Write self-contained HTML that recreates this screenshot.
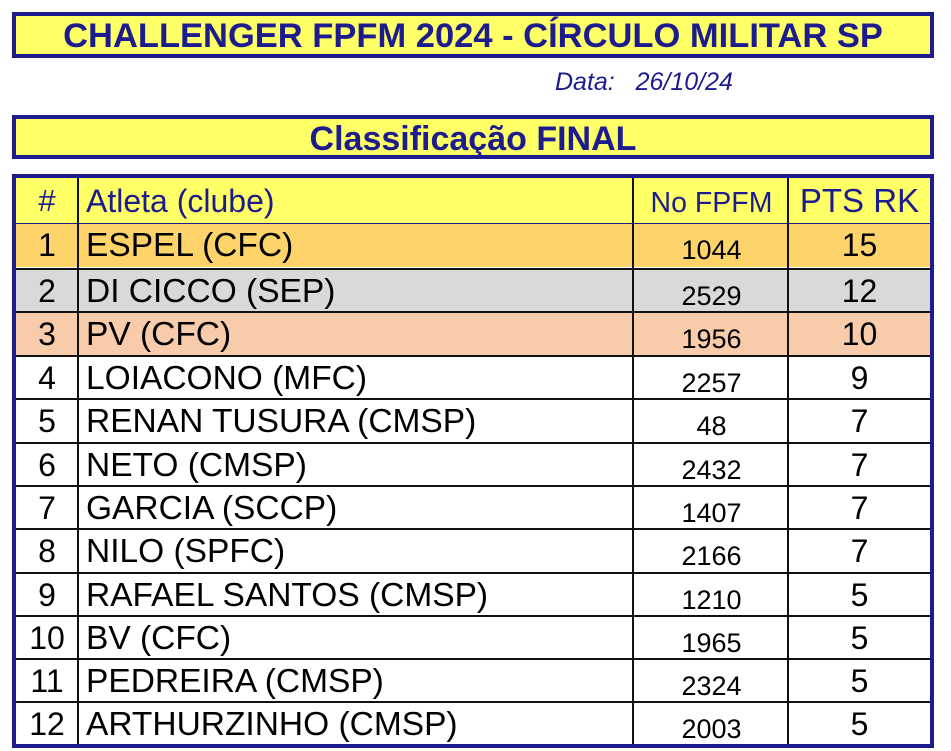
<!DOCTYPE html>
<html><head><meta charset="utf-8"><style>
body{margin:0;width:951px;height:750px;background:#fff;position:relative;overflow:hidden;font-family:"Liberation Sans",Arial,sans-serif}
.box{position:absolute;left:12px;width:914px;background:#ffff66;border:4px solid #1c1c8e;color:#1c1c8e;font-weight:bold;text-align:center}
.t{position:absolute;left:12px;width:914px;border:4px solid #1c1c8e;top:174px;height:566px}
.r{position:absolute;left:0;width:914px;height:43px;border-top:2px solid #111;color:#000}
.r div{position:absolute;top:0;height:43px;line-height:43px}
.c1{left:0;width:62px;text-align:center;font-size:32px}
.c2{left:70px;font-size:33.5px;white-space:nowrap}
.c3{left:618px;width:155px;text-align:center;font-size:27px;padding-top:5px}
.c4{left:773px;width:141px;text-align:center;font-size:32px}
.v{position:absolute;top:0;bottom:0;width:2px;background:#111}
</style></head><body>
<div class="box" style="top:12px;height:38px;line-height:40px;font-size:34.5px">CHALLENGER FPFM 2024 - CÍRCULO MILITAR SP</div>
<div style="position:absolute;left:555px;top:68px;font-size:25px;font-style:italic;color:#1c1c8e;white-space:pre">Data:   26/10/24</div>
<div class="box" style="top:115px;height:36px;line-height:40px;font-size:34px">Classificação FINAL</div>
<div class="t">
<div class="r" style="top:0;height:45px;border-top:none;background:#ffff66;color:#1c1c8e;border-bottom:3px solid #1c1c8e">
<div class="c1" style="font-size:31px;line-height:46px">#</div><div class="c2" style="font-size:32px;line-height:46px">Atleta (clube)</div><div class="c3" style="font-size:28.5px;line-height:46px;padding-top:2px">No FPFM</div><div class="c4" style="font-size:33px;line-height:46px">PTS RK</div></div>
<div class="r" style="top:46px;background:#fdd36a;border-top:none"><div class="c1">1</div><div class="c2">ESPEL (CFC)</div><div class="c3">1044</div><div class="c4">15</div></div>
<div class="r" style="top:90px;background:#d9d9d9"><div class="c1">2</div><div class="c2">DI CICCO (SEP)</div><div class="c3">2529</div><div class="c4">12</div></div>
<div class="r" style="top:133px;background:#f8cbab"><div class="c1">3</div><div class="c2">PV (CFC)</div><div class="c3">1956</div><div class="c4">10</div></div>
<div class="r" style="top:177px"><div class="c1">4</div><div class="c2">LOIACONO (MFC)</div><div class="c3">2257</div><div class="c4">9</div></div>
<div class="r" style="top:220px"><div class="c1">5</div><div class="c2">RENAN TUSURA (CMSP)</div><div class="c3">48</div><div class="c4">7</div></div>
<div class="r" style="top:264px"><div class="c1">6</div><div class="c2">NETO (CMSP)</div><div class="c3">2432</div><div class="c4">7</div></div>
<div class="r" style="top:307px"><div class="c1">7</div><div class="c2">GARCIA (SCCP)</div><div class="c3">1407</div><div class="c4">7</div></div>
<div class="r" style="top:350px"><div class="c1">8</div><div class="c2">NILO (SPFC)</div><div class="c3">2166</div><div class="c4">7</div></div>
<div class="r" style="top:394px"><div class="c1">9</div><div class="c2">RAFAEL SANTOS (CMSP)</div><div class="c3">1210</div><div class="c4">5</div></div>
<div class="r" style="top:437px"><div class="c1">10</div><div class="c2">BV (CFC)</div><div class="c3">1965</div><div class="c4">5</div></div>
<div class="r" style="top:480px"><div class="c1">11</div><div class="c2">PEDREIRA (CMSP)</div><div class="c3">2324</div><div class="c4">5</div></div>
<div class="r" style="top:523px"><div class="c1">12</div><div class="c2">ARTHURZINHO (CMSP)</div><div class="c3">2003</div><div class="c4">5</div></div>
<div class="v" style="left:61px"></div><div class="v" style="left:616px"></div><div class="v" style="left:771px"></div>
</div>
</body></html>
